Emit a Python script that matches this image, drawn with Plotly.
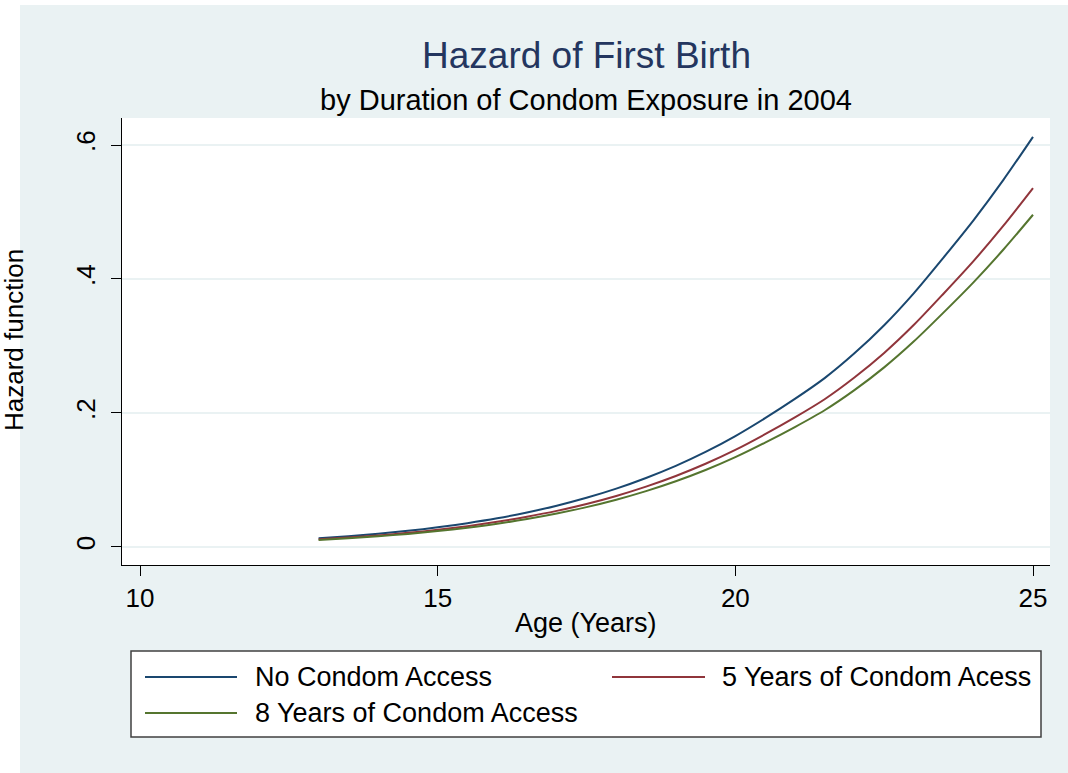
import plotly.graph_objects as go

# ---- data ----
age = [13.0, 13.5, 14.0, 14.5, 15.0, 15.5, 16.0, 16.5, 17.0, 17.5, 18.0, 18.5,
       19.0, 19.5, 20.0, 20.5, 21.0, 21.5, 22.0, 22.5, 23.0, 23.5, 24.0, 24.5, 25.0]
no_access = [0.0130, 0.0160, 0.0197, 0.0241, 0.0293, 0.0355, 0.0428, 0.0515, 0.0616,
             0.0734, 0.0871, 0.1030, 0.1211, 0.1419, 0.1656, 0.1923, 0.2210, 0.2520,
             0.2890, 0.3310, 0.3790, 0.4324, 0.4876, 0.5476, 0.6122]
five_years = [0.0114, 0.0140, 0.0172, 0.0211, 0.0256, 0.0311, 0.0375, 0.0451, 0.0539,
              0.0642, 0.0762, 0.0901, 0.1060, 0.1242, 0.1449, 0.1683, 0.1934, 0.2205,
              0.2529, 0.2896, 0.3316, 0.3784, 0.4267, 0.4792, 0.5357]
eight_years = [0.0105, 0.0130, 0.0160, 0.0195, 0.0237, 0.0288, 0.0347, 0.0417, 0.0499,
               0.0595, 0.0706, 0.0834, 0.0981, 0.1149, 0.1341, 0.1558, 0.1790, 0.2041,
               0.2341, 0.2681, 0.3070, 0.3502, 0.3950, 0.4436, 0.4959]

series_names = ["No Condom Access", "5 Years of Condom Acess", "8 Years of Condom Access"]
series_colors = ["#1A476F", "#90353B", "#55752F"]

x_ticks = [10, 15, 20, 25]
y_ticks = [0, 0.2, 0.4, 0.6]
y_tick_text = ["0", ".2", ".4", ".6"]

title_text = "Hazard of First Birth"
subtitle_text = "by Duration of Condom Exposure in 2004"
x_title = "Age (Years)"
y_title = "Hazard function"

# ---- layout geometry (pixels) ----
W, H = 1068, 773
L, R, T, B = 122, 18, 118, 208
PW, PH = W - L - R, H - T - B

def px(xp):
    return (xp - L) / PW

def py(yp):
    return (H - B - yp) / PH

BG = "#EAF2F3"
FONT = "Liberation Sans, Arial, sans-serif"

fig = go.Figure()
for name, vals, col in zip(series_names, [no_access, five_years, eight_years], series_colors):
    fig.add_trace(go.Scatter(x=age, y=vals, mode="lines", name=name,
                             line=dict(color=col, width=2, shape="spline", smoothing=0.8),
                             showlegend=False))

shapes = [
    # white strips outside the graph region (left, top)
    dict(type="rect", xref="paper", yref="paper", x0=px(0), x1=px(20), y0=py(H), y1=py(0),
         fillcolor="white", line=dict(width=0), layer="below"),
    dict(type="rect", xref="paper", yref="paper", x0=px(0), x1=px(W), y0=py(5), y1=py(0),
         fillcolor="white", line=dict(width=0), layer="below"),
    # legend box
    dict(type="rect", xref="paper", yref="paper", x0=px(131), x1=px(1041), y0=py(737), y1=py(651),
         fillcolor="white", line=dict(color="#404040", width=1.5)),
]
annotations = [
    dict(text=title_text, x=0.5, y=py(55), xref="paper", yref="paper", showarrow=False,
         xanchor="center", yanchor="middle", font=dict(family=FONT, size=37, color="#24365F")),
    dict(text=subtitle_text, x=0.5, y=py(100), xref="paper", yref="paper", showarrow=False,
         xanchor="center", yanchor="middle", font=dict(family=FONT, size=29, color="black")),
    dict(text=x_title, x=0.5, y=py(623), xref="paper", yref="paper", showarrow=False,
         xanchor="center", yanchor="middle", font=dict(family=FONT, size=27, color="black")),
    dict(text=y_title, x=px(14), y=py(340), xref="paper", yref="paper", showarrow=False,
         xanchor="center", yanchor="middle", textangle=-90,
         font=dict(family=FONT, size=26, color="black")),
]

# custom legend (two columns like Stata)
legend_pos = [(145, 237, 253, 677), (612, 705, 720, 677), (145, 237, 253, 713)]
for (lx0, lx1, tx, ly), name, col in zip(legend_pos, series_names, series_colors):
    shapes.append(dict(type="line", xref="paper", yref="paper", x0=px(lx0), x1=px(lx1),
                       y0=py(ly), y1=py(ly), line=dict(color=col, width=2)))
    annotations.append(dict(text=name, x=px(tx), y=py(ly), xref="paper", yref="paper",
                            showarrow=False, xanchor="left", yanchor="middle",
                            font=dict(family=FONT, size=27, color="black")))

fig.update_layout(
    width=W, height=H,
    margin=dict(l=L, r=R, t=T, b=B, pad=0),
    paper_bgcolor=BG, plot_bgcolor="white",
    font=dict(family=FONT, color="black"),
    shapes=shapes, annotations=annotations,
    showlegend=False,
)
fig.update_xaxes(range=[9.6976, 25.2856], tickvals=x_ticks, ticks="outside", ticklen=10,
                 tickcolor="black", tickwidth=1, showline=True, linecolor="black", linewidth=1,
                 showgrid=False, zeroline=False, tickfont=dict(family=FONT, size=26, color="black"))
fig.update_yaxes(range=[-0.0269, 0.6403], tickvals=y_ticks, ticktext=y_tick_text, tickangle=-90,
                 ticks="outside", ticklen=10, tickcolor="black", tickwidth=1, showline=True,
                 linecolor="black", linewidth=1, showgrid=True, gridcolor=BG, gridwidth=2,
                 zeroline=False, ticklabelstandoff=6,
                 tickfont=dict(family=FONT, size=26, color="black"))

fig.write_html("out.html", config={"displayModeBar": False},
               post_script="document.body.style.margin='0px';")
